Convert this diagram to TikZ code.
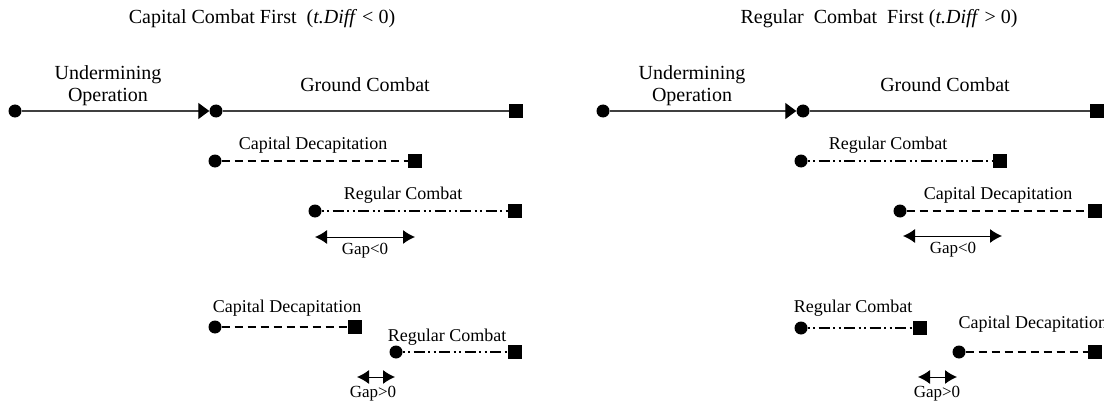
\documentclass[tikz,border=0pt]{standalone}
\usepackage{fontspec}
\setmainfont{Liberation Serif}
\usetikzlibrary{arrows.meta}

\begin{document}
\begin{tikzpicture}[
    x=1pt, y=-1pt,
    dot/.style = {circle, fill, inner sep=0pt, minimum size=13pt},
    endbox/.style = {rectangle, fill, inner sep=0pt, minimum size=14pt},
    mainline/.style = {draw=black!75, line width=1.3pt},
    joinarrow/.style = {-{Triangle[length=11pt,width=16pt,black]}},
    capline/.style = {line width=2.2pt, dash pattern=on 8pt off 5pt},
    regline/.style = {line width=2.2pt, dash pattern=on 2pt off 3.5pt on 2pt off 3.5pt on 11pt off 3.5pt},
    gaparrow/.style = {line width=1pt, {Latex[length=12pt,width=14pt]}-{Latex[length=12pt,width=14pt]}},
    bigtext/.style = {font=\fontsize{20}{22}\selectfont, align=center},
    smalltext/.style = {font=\fontsize{18}{20}\selectfont},
    gaptext/.style = {font=\fontsize{17}{19}\selectfont},
  ]
  \useasboundingbox (0,0) rectangle (1104,404);

  % left: capital combat first
  \node[bigtext] (ltitle) at (262,19) {Capital Combat First~~(\textit{t.Diff}~<~0)};
  \node[bigtext] (lunder) at (108,86) {Undermining\\Operation};
  \node[bigtext] (lground) at (365,85) {Ground Combat};
  \node[dot] (lstart) at (15,111) {};
  \node[dot] (ljoin) at (216,111) {};
  \node[endbox] (lend) at (516,111) {};
  \draw[mainline, joinarrow] (lstart) -- (ljoin);
  \draw[mainline] (ljoin) -- (lend);

  \node[smalltext] (lcaplabel) at (313,145) {Capital Decapitation};
  \node[dot] (lcapa) at (215,161) {};
  \node[endbox] (lcapb) at (415,161) {};
  \draw[capline] (lcapa) -- (lcapb);
  \node[smalltext] (lreglabel) at (403,195) {Regular Combat};
  \node[dot] (lrega) at (315,211) {};
  \node[endbox] (lregb) at (515,211) {};
  \draw[regline] (lrega) -- (lregb);
  \coordinate (lgapa) at (315,237);
  \coordinate (lgapb) at (415,237);
  \draw[gaparrow] (lgapa) -- (lgapb);
  \node[gaptext] (lgaplabel) at (365,251) {Gap<0};

  \node[smalltext] (lcaplabelb) at (287,308) {Capital Decapitation};
  \node[dot] (lcapc) at (215,327) {};
  \node[endbox] (lcapd) at (355,327) {};
  \draw[capline] (lcapc) -- (lcapd);
  \node[smalltext] (lreglabelb) at (447,337) {Regular Combat};
  \node[dot] (lregc) at (396,352) {};
  \node[endbox] (lregd) at (515,352) {};
  \draw[regline] (lregc) -- (lregd);
  \coordinate (lgapc) at (357,377);
  \coordinate (lgapd) at (395,377);
  \draw[gaparrow] (lgapc) -- (lgapd);
  \node[gaptext] (lgaplabelb) at (373,394) {Gap>0};

  % right: regular combat first
  \node[bigtext] (rtitle) at (879,19) {Regular~ Combat~ First~(\textit{t.Diff}~>~0)};
  \node[bigtext] (runder) at (692,86) {Undermining\\Operation};
  \node[bigtext] (rground) at (945,85) {Ground Combat};
  \node[dot] (rstart) at (603,111) {};
  \node[dot] (rjoin) at (803,111) {};
  \node[endbox] (rend) at (1097,111) {};
  \draw[mainline, joinarrow] (rstart) -- (rjoin);
  \draw[mainline] (rjoin) -- (rend);

  \node[smalltext] (rreglabel) at (888,145) {Regular Combat};
  \node[dot] (rrega) at (801,161) {};
  \node[endbox] (rregb) at (1000,161) {};
  \draw[regline] (rrega) -- (rregb);
  \node[smalltext] (rcaplabel) at (998,195) {Capital Decapitation};
  \node[dot] (rcapa) at (900,211) {};
  \node[endbox] (rcapb) at (1095,211) {};
  \draw[capline] (rcapa) -- (rcapb);
  \coordinate (rgapa) at (903,236);
  \coordinate (rgapb) at (1002,236);
  \draw[gaparrow] (rgapa) -- (rgapb);
  \node[gaptext] (rgaplabel) at (953,250) {Gap<0};

  \node[smalltext] (rreglabelb) at (853,308) {Regular Combat};
  \node[dot] (rregc) at (801,328) {};
  \node[endbox] (rregd) at (920,328) {};
  \draw[regline] (rregc) -- (rregd);
  \node[smalltext, anchor=west] (rcaplabelb) at (955,324) {Capital Decapitation};
  \node[dot] (rcapc) at (959,352) {};
  \node[endbox] (rcapd) at (1095,352) {};
  \draw[capline] (rcapc) -- (rcapd);
  \coordinate (rgapc) at (918,377);
  \coordinate (rgapd) at (957,377);
  \draw[gaparrow] (rgapc) -- (rgapd);
  \node[gaptext] (rgaplabelb) at (937,394) {Gap>0};
\end{tikzpicture}
\end{document}
